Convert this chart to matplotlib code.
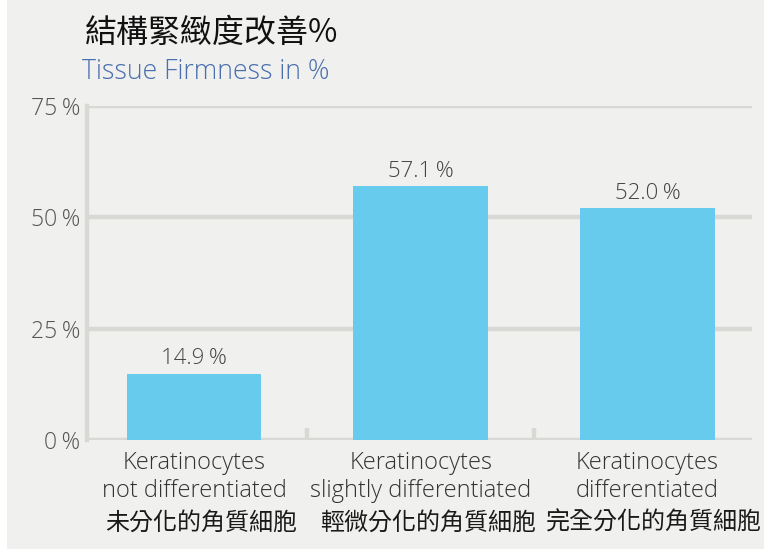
import matplotlib
matplotlib.use("Agg")
import matplotlib.pyplot as plt
import matplotlib.transforms as mtransforms
from matplotlib.patches import Rectangle

categories_en = ["Keratinocytes\nnot differentiated",
                 "Keratinocytes\nslightly differentiated",
                 "Keratinocytes\ndifferentiated"]
categories_zh = ["未分化的角質細胞", "輕微分化的角質細胞", "完全分化的角質細胞"]
values = [14.9, 57.1, 52.0]
value_labels = ["14.9\u2009%", "57.1\u2009%", "52.0\u2009%"]
yticks = [0, 25, 50, 75]
ytick_labels = ["0\u2009%", "25\u2009%", "50\u2009%", "75\u2009%"]
title_zh = "結構緊緻度改善%"
subtitle_en = "Tissue Firmness in %"

BG = "#f0f0ef"
GRID = "#d8d8d4"
BAR = "#66cbed"
EN = ["Open Sans", "DejaVu Sans"]
ZH = ["Noto Sans CJK TC", "DejaVu Sans"]
W = "light"

fig = plt.figure(figsize=(7.64, 5.49), dpi=100, facecolor=BG)
fig.patches.append(Rectangle((0, 0), 7/764, 1, transform=fig.transFigure,
                             facecolor="white", edgecolor="none", zorder=0))
ax = fig.add_axes([87/764, 1 - 440/549, (752 - 87)/764, (440 - 106)/549])
ax.set_facecolor(BG)

x = list(range(len(values)))
ax.bar(x, values, width=0.595, color=BAR, zorder=3)
for xi, v, lab in zip(x, values, value_labels):
    ax.annotate(lab, (xi, v), xytext=(0, 3), textcoords="offset points",
                ha="center", va="bottom", fontsize=16, color="#444444",
                family=EN, weight=W, zorder=4)

ax.set_xlim(-0.472, 2.461)
ax.set_ylim(0, 75)
ax.set_yticks(yticks)
ax.set_yticklabels(ytick_labels, family=EN, weight=W, fontsize=16.5,
                   color="#555555")
ax.tick_params(axis="y", length=0, pad=5)
ax.yaxis.grid(True, color=GRID, linewidth=3.2, zorder=0)
ax.set_axisbelow(True)

for s in ["top", "right", "bottom"]:
    ax.spines[s].set_visible(False)
ax.spines["left"].set_color(GRID)
ax.spines["left"].set_linewidth(3.2)

ax.set_xticks(x)
ax.set_xticklabels(categories_en, family=EN, weight=W, fontsize=17,
                   color="#333333", linespacing=1.2)
ax.tick_params(axis="x", length=0, pad=8)
ax.set_xticks([0.5, 1.5], minor=True)
ax.tick_params(axis="x", which="minor", direction="in", length=9,
               width=3.2, color=GRID)

trans = mtransforms.blended_transform_factory(ax.transData, fig.transFigure)
for xi, lab in zip(x, categories_zh):
    ax.annotate(lab, (xi, 1 - 523/549), xycoords=trans, xytext=(5, 0),
                textcoords="offset points", ha="center", va="center",
                family=ZH, fontsize=17.3, color="#1a1a1a",
                annotation_clip=False)

fig.text(85/764, 1 - 33/549, title_zh, ha="left", va="center",
         family=ZH, fontsize=23, color="#111111")
fig.text(82/764, 1 - 72/549, subtitle_en, ha="left", va="center",
         family=EN, weight=W, fontsize=19.2, color="#4a6fae")

fig.savefig("out.png", dpi=100, facecolor=BG)
